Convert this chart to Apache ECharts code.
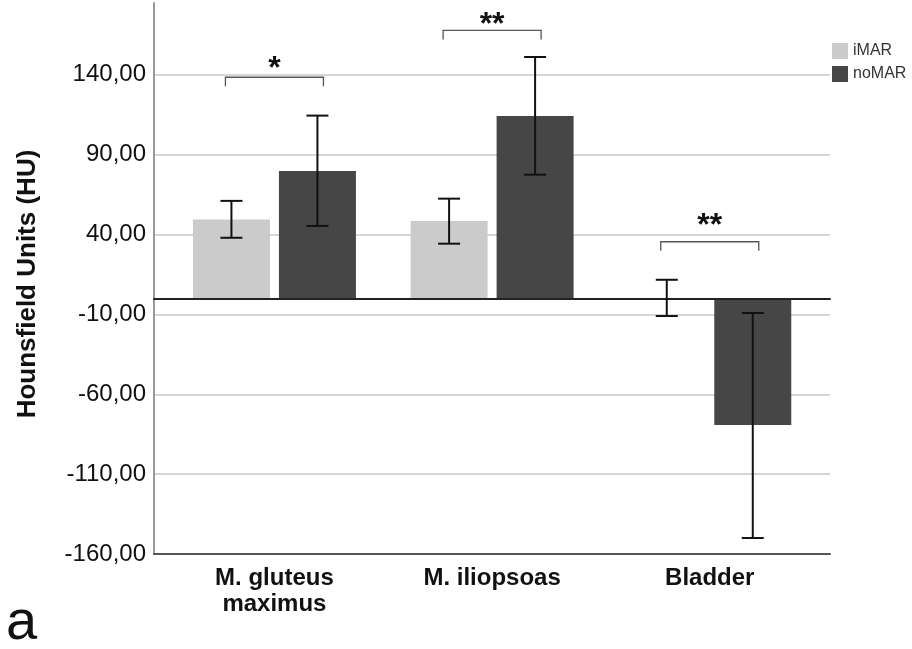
<!DOCTYPE html>
<html><head><meta charset="utf-8">
<script src="https://cdn.jsdelivr.net/npm/echarts@6/dist/echarts.min.js"></script>
<style>html,body{margin:0;padding:0;background:#fff}#c{width:912px;height:649px}</style>
</head><body><div id="c"></div>
<script>
const categories = ['M. gluteus\nmaximus', 'M. iliopsoas', 'Bladder'];
const seriesNames = ['iMAR', 'noMAR'];
const iMAR = [49.5, 48.5, 0.3];
const noMAR = [79.8, 114.3, -79.3];
const iMARLow = [38.0, 34.3, -11.0];
const iMARHigh = [61.1, 62.5, 11.7];
const noMARLow = [45.4, 77.5, -150.0];
const noMARHigh = [114.5, 151.2, -9.1];
const sigCategory = [0, 1, 2];
const sigBracketValue = [138.5, 167.8, 35.5];
const sigStarValue = [143.5, 171.2, 45.0];
const sigLabel = ['*', '**', '**'];
const yMin = -160, yMax = 185, yInterval = 50;

const BAR_W = 77, BAR_GAP_PX = 9, CAP = 11, BR_HALF = 49, BR_TICK = 9;
const FONT = '"Liberation Sans", Arial, sans-serif';

const errData = [];
for (let i = 0; i < categories.length; i++) {
  errData.push([i, iMARLow[i], iMARHigh[i], 0]);
  errData.push([i, noMARLow[i], noMARHigh[i], 1]);
}
const sigData = sigCategory.map((c, i) => [c, sigBracketValue[i], sigStarValue[i], i]);

const chart = echarts.init(document.getElementById('c'), null, {renderer: 'canvas'});
const yFmt = v => v.toFixed(2).replace('.', ',');

chart.setOption({
  animation: false,
  backgroundColor: '#fff',
  textStyle: {fontFamily: FONT},
  grid: [
    {left: 154, right: 82, top: 3, bottom: 95},
    {left: 165.6, right: 93.4, top: 3, bottom: 95}
  ],
  legend: {
    orient: 'vertical', left: 832, top: 43, padding: 0, itemGap: 7,
    itemWidth: 16, itemHeight: 16, icon: 'rect',
    textStyle: {fontSize: 16, color: '#333', fontFamily: FONT, padding: [0, 0, 0, 0]},
    data: seriesNames
  },
  xAxis: [
    {gridIndex: 0, type: 'value', min: 0, max: 1, position: 'bottom', z: 3,
     axisLine: {show: true, onZero: false, lineStyle: {color: '#555', width: 2}},
     axisTick: {show: false}, axisLabel: {show: false}, splitLine: {show: false}},
    {gridIndex: 0, type: 'value', min: 0, max: 1, position: 'top', z: 3,
     axisLine: {show: true, onZero: true, lineStyle: {color: '#222', width: 2}},
     axisTick: {show: false}, axisLabel: {show: false}, splitLine: {show: false}},
    {gridIndex: 1, type: 'category', data: categories,
     axisLine: {show: false}, axisTick: {show: false}, splitLine: {show: false},
     axisLabel: {margin: 11, fontSize: 24, fontWeight: 'bold', color: '#111', lineHeight: 26, fontFamily: FONT}}
  ],
  yAxis: [
    {gridIndex: 0, type: 'value', min: yMin, max: yMax, interval: yInterval, z: 0,
     axisLine: {show: true, onZero: false, lineStyle: {color: '#999', width: 2}},
     axisTick: {show: false},
     axisLabel: {margin: 8, fontSize: 24, color: '#111', fontFamily: FONT, formatter: yFmt, showMaxLabel: false},
     splitLine: {show: true, showMaxLine: false, lineStyle: {color: '#c8c8c8', width: 1.5}}},
    {gridIndex: 1, type: 'value', min: yMin, max: yMax, interval: yInterval, show: false,
     splitLine: {show: false}}
  ],
  series: [
    {name: 'iMAR', type: 'bar', xAxisIndex: 2, yAxisIndex: 1, data: iMAR, z: 2,
     barWidth: BAR_W, barGap: (BAR_GAP_PX / BAR_W * 100).toFixed(2) + '%',
     itemStyle: {color: '#cbcbcb'}},
    {name: 'noMAR', type: 'bar', xAxisIndex: 2, yAxisIndex: 1, data: noMAR, z: 2,
     barWidth: BAR_W, itemStyle: {color: '#464646'}},
    {type: 'custom', xAxisIndex: 2, yAxisIndex: 1, z: 5, data: errData,
     encode: {x: 0, y: [1, 2]},
     renderItem: function (params, api) {
       const cat = api.value(0), lo = api.value(1), hi = api.value(2), s = api.value(3);
       const pLo = api.coord([cat, lo]), pHi = api.coord([cat, hi]);
       const x = pLo[0] + (s === 0 ? -1 : 1) * (BAR_W + BAR_GAP_PX) / 2;
       const st = {stroke: '#111', lineWidth: 2};
       return {type: 'group', children: [
         {type: 'line', shape: {x1: x, y1: pLo[1], x2: x, y2: pHi[1]}, style: st},
         {type: 'line', shape: {x1: x - CAP, y1: pHi[1], x2: x + CAP, y2: pHi[1]}, style: st},
         {type: 'line', shape: {x1: x - CAP, y1: pLo[1], x2: x + CAP, y2: pLo[1]}, style: st}
       ]};
     }},
    {type: 'custom', xAxisIndex: 2, yAxisIndex: 1, z: 5, data: sigData,
     encode: {x: 0, y: [1, 2]},
     renderItem: function (params, api) {
       const cat = api.value(0), bv = api.value(1), sv = api.value(2), idx = api.value(3);
       const p = api.coord([cat, bv]), ps = api.coord([cat, sv]);
       const x1 = p[0] - BR_HALF, x2 = p[0] + BR_HALF, y = p[1];
       return {type: 'group', children: [
         {type: 'polyline', shape: {points: [[x1, y + BR_TICK], [x1, y], [x2, y], [x2, y + BR_TICK]]},
          style: {stroke: '#555', lineWidth: 1.3, fill: null}},
         {type: 'text', x: p[0], y: ps[1],
          style: {text: sigLabel[idx], font: 'bold 32px ' + FONT, fill: '#111', align: 'center', verticalAlign: 'middle'}}
       ]};
     }}
  ],
  graphic: [
    {type: 'text', x: 28, y: 284, rotation: Math.PI / 2,
     style: {text: 'Hounsfield Units (HU)', font: 'bold 26px ' + FONT, fill: '#111', align: 'center', verticalAlign: 'middle'}},
    {type: 'text', x: 6, y: 624,
     style: {text: 'a', font: '56px ' + FONT, fill: '#111', align: 'left', verticalAlign: 'middle'}}
  ]
});
</script></body></html>
